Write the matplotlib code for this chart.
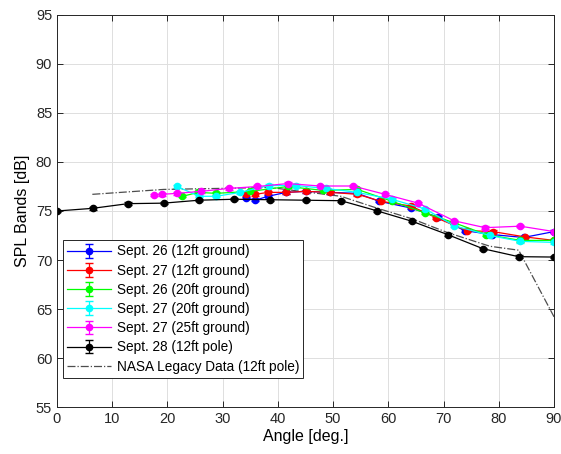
import matplotlib
matplotlib.use('Agg')
import matplotlib.pyplot as plt

# ── Data ────────────────────────────────────────────────────
ang_26_12 = [34.3, 35.9, 38.2, 41.5, 45.0, 49.5, 54.4, 58.3, 64.1, 68.9, 73.8, 78.7, 84.5, 90.0]
spl_26_12 = [76.3, 76.1, 76.5, 76.9, 77.0, 76.9, 76.8, 76.0, 75.3, 74.4, 73.0, 72.6, 72.3, 72.9]

ang_27_12 = [34.3, 35.9, 38.2, 41.5, 45.0, 49.5, 54.4, 58.6, 64.1, 68.7, 74.2, 78.9, 84.8, 90.0]
spl_27_12 = [76.7, 76.7, 76.9, 76.9, 77.0, 76.9, 76.7, 76.0, 75.5, 74.3, 73.0, 72.9, 72.35, 72.0]

ang_26_20 = [22.7, 25.6, 28.8, 35.0, 41.8, 48.2, 54.4, 60.6, 66.7, 71.9, 77.7, 83.9, 90.0]
spl_26_20 = [76.5, 76.9, 76.8, 77.0, 77.5, 77.1, 77.2, 76.0, 74.8, 73.8, 72.6, 72.0, 72.0]

ang_27_20 = [21.7, 25.8, 28.8, 33.2, 38.3, 43.3, 48.7, 54.4, 60.6, 66.7, 71.9, 78.4, 83.9, 90.0]
spl_27_20 = [77.5, 76.5, 76.5, 76.9, 77.6, 77.6, 77.3, 76.9, 76.2, 75.2, 73.5, 72.5, 71.9, 71.8]

ang_27_25 = [17.6, 19.0, 21.7, 26.0, 31.1, 36.3, 41.8, 47.6, 53.6, 59.4, 65.4, 71.9, 77.5, 83.9, 90.0]
spl_27_25 = [76.6, 76.7, 76.8, 77.0, 77.3, 77.5, 77.8, 77.55, 77.55, 76.7, 75.8, 74.0, 73.3, 73.45, 72.9]

ang_28_pole = [0, 6.43, 12.86, 19.29, 25.71, 32.14, 38.57, 45.0, 51.43, 57.86, 64.29, 70.71, 77.14, 83.57, 90.0]
spl_28_pole = [75.0, 75.27, 75.75, 75.8, 76.1, 76.2, 76.15, 76.1, 76.05, 75.03, 73.95, 72.6, 71.15, 70.34, 70.3]

ang_nasa = [6.4, 19.3, 38.6, 51.4, 57.9, 64.3, 70.7, 78.4, 83.6, 90.0]
spl_nasa = [76.7, 77.2, 77.4, 76.5, 75.3, 74.2, 72.8, 71.4, 71.0, 64.2]

err = 0.12

series = [
    (ang_26_12, spl_26_12, (0, 0, 1), 'Sept. 26 (12ft ground)'),
    (ang_27_12, spl_27_12, (1, 0, 0), 'Sept. 27 (12ft ground)'),
    (ang_26_20, spl_26_20, (0, 1, 0), 'Sept. 26 (20ft ground)'),
    (ang_27_20, spl_27_20, (0, 1, 1), 'Sept. 27 (20ft ground)'),
    (ang_27_25, spl_27_25, (1, 0, 1), 'Sept. 27 (25ft ground)'),
    (ang_28_pole, spl_28_pole, (0, 0, 0), 'Sept. 28 (12ft pole)'),
]

plt.rcParams.update({
    'font.family': 'Liberation Sans',
    'font.size': 10,
    'xtick.direction': 'in',
    'ytick.direction': 'in',
})

fig = plt.figure(figsize=(5.61, 4.54), dpi=100)
ax = fig.add_axes([0.1016, 0.1035, 0.886, 0.8635])

handles = []
for x, y, c, lab in series:
    h = ax.errorbar(x, y, yerr=[err] * len(y), color=c, marker='o', markersize=4.5,
                    linewidth=0.9, elinewidth=0.9, capsize=3, label=lab)
    handles.append(h)

nasa, = ax.plot(ang_nasa, spl_nasa, '-.', color=(0.3, 0.3, 0.3), linewidth=0.9,
                label='NASA Legacy Data (12ft pole)')
handles.append(nasa)

ax.set_xlim(0, 90)
ax.set_ylim(55, 95)
ax.set_xticks(range(0, 91, 10))
ax.set_yticks(range(55, 96, 5))
ax.grid(True, color=(0.87, 0.87, 0.87), linewidth=0.7)
ax.set_axisbelow(True)
for s in ax.spines.values():
    s.set_color((0.15, 0.15, 0.15))
    s.set_linewidth(0.7)
ax.tick_params(colors=(0.15, 0.15, 0.15), labelsize=10.5, length=4, width=0.7,
               top=True, right=True)
ax.set_xlabel('Angle [deg.]', fontsize=11.5, labelpad=2)
ax.set_ylabel('SPL Bands [dB]', fontsize=11.5, labelpad=4)

leg = ax.legend(handles=handles, loc='lower left', bbox_to_anchor=(0.012, 0.075),
                fontsize=9.8, fancybox=False, framealpha=1,
                edgecolor=(0.15, 0.15, 0.15), borderpad=0.3, labelspacing=0.38,
                handlelength=3.2, handletextpad=0.45, borderaxespad=0)
leg.get_frame().set_linewidth(0.7)

fig.savefig('out.png', dpi=100)
